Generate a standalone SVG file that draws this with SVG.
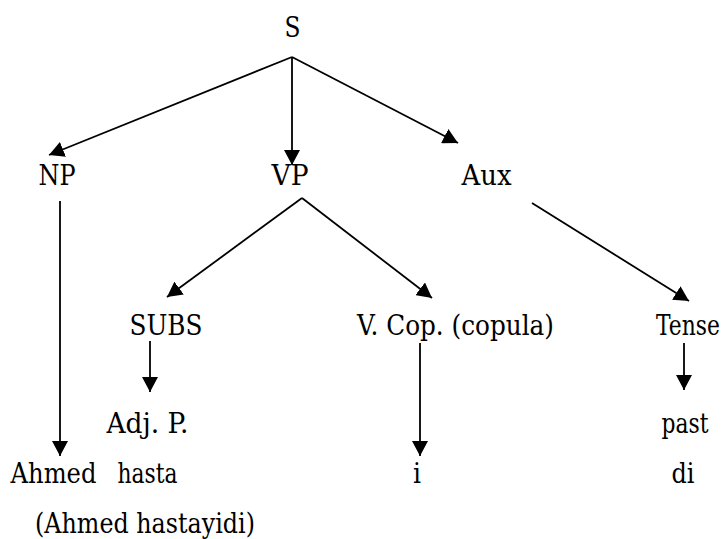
<svg xmlns="http://www.w3.org/2000/svg" width="726" height="539" viewBox="0 0 726 539">
<defs>
<style>
text{font-family:'DejaVu Serif',serif;font-size:27.5px;fill:#000;text-anchor:middle}
.c line{stroke:#000;stroke-width:1.8;marker-end:url(#ah)}
</style>
<marker id="ah" viewBox="0 0 15 16" refX="15" refY="8" markerWidth="15" markerHeight="16" markerUnits="userSpaceOnUse" orient="auto">
<path d="M0,0 L15,8 L0,16 z" fill="#000"/>
</marker>
</defs>
<rect width="726" height="539" fill="#fff"/>
<g class="c" id="connectors">
<line x1="292" y1="57" x2="49" y2="155"/>
<line x1="292" y1="57" x2="292" y2="165"/>
<line x1="292" y1="57" x2="458" y2="143"/>
<line x1="60" y1="201" x2="60" y2="456"/>
<line x1="302" y1="198" x2="167" y2="297"/>
<line x1="302" y1="198" x2="432" y2="298"/>
<line x1="532" y1="203" x2="689" y2="301"/>
<line x1="150" y1="341" x2="150" y2="392"/>
<line x1="420" y1="343" x2="420" y2="456"/>
<line x1="684" y1="343" x2="684" y2="390"/>
</g>
<g id="S"><text x="292.5" y="37" textLength="16" lengthAdjust="spacingAndGlyphs">S</text></g>
<g id="NP"><text x="57" y="185" textLength="37" lengthAdjust="spacingAndGlyphs">NP</text></g>
<g id="VP"><text x="290" y="185" textLength="37" lengthAdjust="spacingAndGlyphs">VP</text></g>
<g id="Aux"><text x="486.5" y="185" textLength="50" lengthAdjust="spacingAndGlyphs">Aux</text></g>
<g id="SUBS"><text x="166" y="335" textLength="73" lengthAdjust="spacingAndGlyphs">SUBS</text></g>
<g id="VCop"><text x="455.5" y="335" textLength="197" lengthAdjust="spacingAndGlyphs">V. Cop. (copula)</text></g>
<g id="Tense"><text x="688" y="335" textLength="64" lengthAdjust="spacingAndGlyphs">Tense</text></g>
<g id="AdjP"><text x="147.5" y="433" textLength="82" lengthAdjust="spacingAndGlyphs">Adj. P.</text></g>
<g id="past"><text x="685" y="433" textLength="47" lengthAdjust="spacingAndGlyphs">past</text></g>
<g id="Ahmed"><text x="53.5" y="483" textLength="86" lengthAdjust="spacingAndGlyphs">Ahmed</text></g>
<g id="hasta"><text x="147.5" y="483" textLength="60" lengthAdjust="spacingAndGlyphs">hasta</text></g>
<g id="i"><text x="417" y="483" textLength="8" lengthAdjust="spacingAndGlyphs">i</text></g>
<g id="di"><text x="683" y="483" textLength="23" lengthAdjust="spacingAndGlyphs">di</text></g>
<g id="gloss"><text x="145" y="533" textLength="220" lengthAdjust="spacingAndGlyphs">(Ahmed hastayidi)</text></g>
</svg>
